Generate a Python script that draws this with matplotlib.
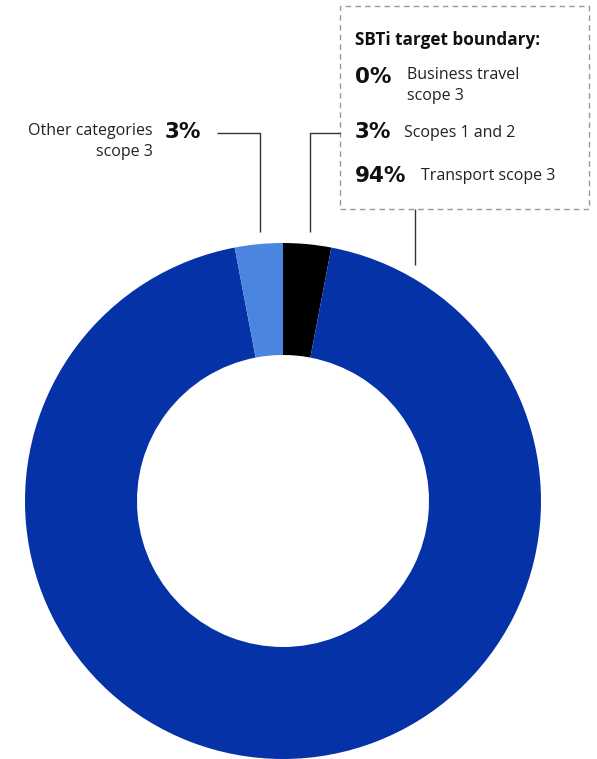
import matplotlib.pyplot as plt
from matplotlib.patches import Rectangle

plt.rcParams['font.family'] = ['Open Sans', 'DejaVu Sans']

# emission shares, clockwise from 12 o'clock
labels = ['Scopes 1 and 2', 'Transport scope 3', 'Business travel scope 3', 'Other categories scope 3']
shares = [3, 94, 0, 3]
colors = ['#000000', '#0532A6', '#7FA8EA', '#4A86E0']

# legend rows inside the boundary box
box_pcts = ['0%', '3%', '94%']
box_texts = ['Business travel\nscope 3', 'Scopes 1 and 2', 'Transport scope 3']

W, H = 597, 759
fig = plt.figure(figsize=(W / 100, H / 100), dpi=100)
ax = fig.add_axes([0, 0, 1, 1])

def Y(y):
    # work in pixel rows from the top
    return H - y

cx, cy, R = 283, 501, 258
ax.pie(shares, colors=colors, radius=R, center=(cx, Y(cy)), startangle=90,
       counterclock=False, wedgeprops=dict(width=R - 146, linewidth=0),
       frame=True)
ax.set_xlim(0, W)
ax.set_ylim(0, H)
ax.set_aspect('equal')
ax.axis('off')

line_kw = dict(color='#333333', lw=1.0, solid_capstyle='butt')

# leader lines
ax.plot([217, 260, 260], [Y(133), Y(133), Y(232)], **line_kw)
ax.plot([310, 310, 340], [Y(232), Y(133), Y(133)], **line_kw)
ax.plot([415, 415], [Y(209), Y(265)], **line_kw)

# dashed box
ax.add_patch(Rectangle((340, Y(209)), 249, 203, fill=False, edgecolor='#999999',
                       lw=1.0, linestyle=(0, (4, 3))))

ax.text(355, Y(40), 'SBTi target boundary:', fontsize=12.3, fontweight='bold',
        color='#111111', va='center', ha='left')

pct_kw = dict(fontsize=15.5, fontweight='bold', family='DejaVu Sans',
              color='#111111', va='center', ha='left')
txt_kw = dict(fontsize=11.5, color='#222222', ha='left', linespacing=1.45)

ax.text(355, Y(77), box_pcts[0], **pct_kw)
ax.text(407, Y(67), box_texts[0], va='top', **txt_kw)
ax.text(355, Y(132), box_pcts[1], **pct_kw)
ax.text(404, Y(133), box_texts[1], va='center', **txt_kw)
ax.text(355, Y(176), box_pcts[2], **pct_kw)
ax.text(421, Y(176), box_texts[2], va='center', **txt_kw)

# left label
ax.text(153, Y(123), 'Other categories\nscope 3', fontsize=11.5, color='#222222',
        ha='right', va='top', multialignment='right', linespacing=1.45)
ax.text(165, Y(132), f'{shares[3]}%', **pct_kw)

fig.savefig('out.png', dpi=100)
